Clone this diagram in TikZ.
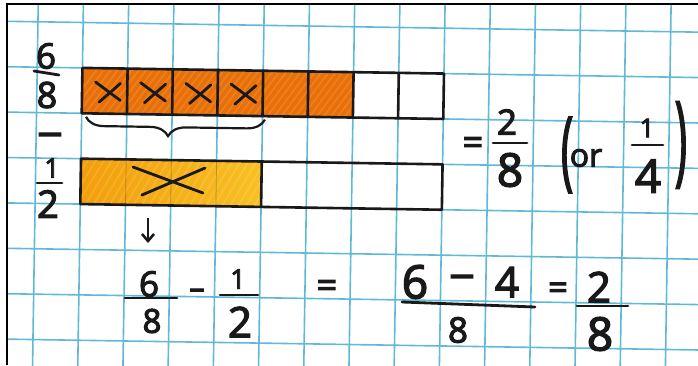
\documentclass[tikz,border=0pt]{standalone}
\usepackage{fontspec}
\usepackage{graphicx}
\setmainfont{Open Sans}
\newfontfamily\handfont{Open Sans}[FakeBold=3.2]
\usetikzlibrary{decorations.pathreplacing,arrows.meta}
\definecolor{gridblue}{RGB}{95,185,215}
\definecolor{ink}{RGB}{25,25,25}
\definecolor{darkorange}{RGB}{232,112,12}
\definecolor{orangelight}{RGB}{246,150,40}
\definecolor{yelloworange}{RGB}{242,158,10}
\definecolor{yellowlight}{RGB}{249,192,35}
\newcommand{\hw}[2]{\handfont\fontsize{#1}{#1}\selectfont #2}
\tikzset{
  gridline/.style={gridblue, line width=1.6pt},
  barline/.style={ink, line width=2.6pt, line join=round, line cap=round},
  inkline/.style={ink, line width=2.8pt, line cap=round},
  hand/.style={text=ink, inner sep=0pt, anchor=center},
}
\begin{document}
\begin{tikzpicture}[x=1pt,y=-1pt]
\useasboundingbox (0,0) rectangle (698,365);
\fill[white] (0,0) rectangle (698,365);
\begin{scope}
\clip (7,4) rectangle (698,365);
\begin{scope}[rotate around={-0.9:(350,180)}]
  % grid paper
  \foreach \k in {-1,...,16} \draw[gridline] ({35.5+45.2*\k},-40) -- ({35.5+45.2*\k},420);
  \foreach \k in {-1,...,9} \draw[gridline] (-40,{26.7+45.4*\k}) -- (740,{26.7+45.4*\k});
  % top bar (6/8)
  \fill[darkorange] (80.7,72.1) rectangle (351.9,117.5);
  \begin{scope}
    \clip (80.7,72.1) rectangle (351.9,117.5);
    \foreach \i in {0,...,45} \draw[orangelight, opacity=0.45, line width=1.6pt] ({60+\i*7},122) -- ++(40,-55);
  \end{scope}
  \draw[barline] (80.7,72.1) rectangle (442.3,117.5);
  \foreach \k in {2,...,8} \draw[barline] ({35.5+45.2*\k},72.1) -- ++(0,45.4);
  % crosses in the first four cells
  \foreach \i in {0,...,3} {
    \draw[inkline] ({94+45.2*\i},86) -- ({119+45.2*\i},104);
    \draw[inkline] ({98+45.2*\i},106) -- ({119+45.2*\i},87);
  }
  % brace under the four crossed cells
  \draw[ink, line width=2.2pt, decorate, decoration={brace, amplitude=18pt, aspect=0.54}] (264,121) -- (85,121);
  % bottom bar (1/2)
  \shade[left color=yelloworange, right color=yellowlight] (80.7,162.9) rectangle (261.5,208.3);
  \begin{scope}
    \clip (80.7,162.9) rectangle (261.5,208.3);
    \foreach \i in {0,...,30} \draw[white, opacity=0.12, line width=1.8pt] ({60+\i*8},212) -- ++(30,-52);
    \foreach \k in {2,3,4} \draw[ink, opacity=0.25, line width=0.8pt] ({35.5+45.2*\k},162.9) -- ++(0,45.4);
  \end{scope}
  \draw[barline] (80.7,162.9) rectangle (442.3,208.3);
  \draw[barline] (261.5,162.9) -- (261.5,208.3);
  \draw[inkline] (132.8,170.4) -- (203.2,195.3);
  \draw[inkline] (142.2,198.3) -- (204.8,170.3);
\end{scope}

% ---- handwriting, left labels
\node[hand] (n68) at (46,56) {\hw{35pt}{6}};
\draw[inkline] (34,71) -- (59,75);
\node[hand] (d68) at (47,95) {\hw{36pt}{8}};
\node[hand] (minusL) at (50,139) {\scalebox{1.25}[1]{\hw{40pt}{–}}};
\node[hand] (n12) at (52,168) {\hw{27pt}{1}};
\draw[inkline] (37,183) -- (62,183);
\node[hand] (d12) at (48,204) {\hw{38pt}{2}};

% ---- right result
\node[hand] (eqR) at (473,146) {\hw{36pt}{=}};
\node[hand] (n28) at (507,122) {\hw{35pt}{2}};
\draw[inkline] (493,143) -- (527,143);
\node[hand] (d28) at (510,170) {\hw{46pt}{8}};
\node[hand] (lp) at (567,155) {\scalebox{1}[2.15]{\hw{40pt}{(}}};
\node[hand] (or) at (586,158) {\hw{32pt}{or}};
\node[hand] (n14) at (647,128) {\hw{26pt}{1}};
\draw[inkline] (632,145) -- (663,145);
\node[hand] (d14) at (648,176) {\hw{46pt}{4}};
\node[hand] (rp) at (681,145) {\scalebox{1}[2.45]{\hw{40pt}{)}}};

% ---- arrow
\coordinate (arrTop) at (148,218);
\coordinate (arrBot) at (148,243);
\draw[ink, line width=2.6pt, -{Straight Barb[length=7pt, width=12pt, line width=2.6pt]}] (arrTop) -- (arrBot);

% ---- bottom equation
\node[hand] (bn68) at (149,284) {\hw{35pt}{6}};
\draw[inkline] (125,298) -- (177,298);
\node[hand] (bd68) at (152,321) {\hw{33pt}{8}};
\node[hand] (bminus) at (197,294) {\scalebox{0.9}[1]{\hw{34pt}{–}}};
\node[hand] (bn12) at (238,279) {\hw{27pt}{1}};
\draw[inkline] (220,295) -- (258,295);
\node[hand] (bd12) at (240,322) {\hw{42pt}{2}};
\node[hand] (beq1) at (327,289) {\hw{36pt}{=}};
\node[hand] (c6) at (415,282) {\hw{46pt}{6}};
\node[hand] (cminus) at (462,281) {\scalebox{1.25}[1]{\hw{40pt}{–}}};
\node[hand] (c4) at (507,282) {\hw{42pt}{4}};
\draw[inkline] (402,302) -- (535,307);
\node[hand] (c8) at (458,330) {\hw{35pt}{8}};
\node[hand] (beq2) at (558,291) {\hw{34pt}{=}};
\node[hand] (r2) at (599,287) {\hw{42pt}{2}};
\draw[inkline] (577,306) -- (628,306);
\node[hand] (r8) at (600,334) {\hw{46pt}{8}};
\end{scope}

% frame of the screenshot
\draw[black, line width=2.5pt] (7,365) -- (7,4) -- (698,4);
\end{tikzpicture}
\end{document}
